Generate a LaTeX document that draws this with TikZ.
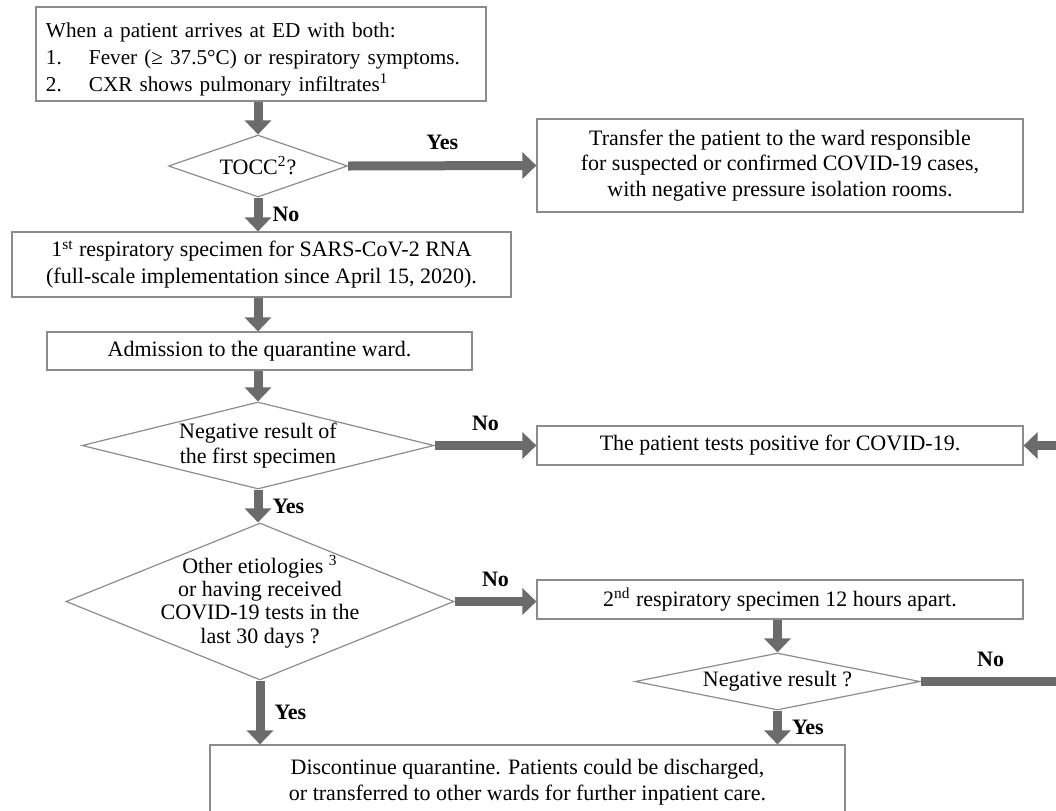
\documentclass[tikz,border=0pt]{standalone}
\usepackage{fontspec}
\setmainfont{Liberation Serif}
\usepackage{tikz}
\usetikzlibrary{arrows.meta}
\usetikzlibrary{shapes}
\definecolor{boxgray}{HTML}{8C8C8C}
\definecolor{arrowgray}{HTML}{6B6B6B}
\begin{document}
\begin{tikzpicture}
      [x=0.5pt,y=-0.5pt,
       font=\fontsize{11}{12.75}\selectfont,
       box/.style={rectangle,draw=boxgray,line width=0.6pt,inner sep=0pt,align=center},
       decision/.style={diamond,draw=boxgray,line width=0.6pt,inner sep=0pt},
       flow/.style={draw=arrowgray,line width=4.5pt,-{Triangle[width=13pt,length=7pt]}},
       answer/.style={font=\fontsize{11}{12}\selectfont\bfseries,inner sep=2pt}]
      \useasboundingbox (0,0) rectangle (1056,810);
      % place nodes
      \node[box,minimum width=225pt,text width=215pt,text height=15pt,text depth=32pt,align=left,
            font=\fontsize{10.6}{13.5}\selectfont] (arrive) at (261,54)
           {\mbox{When a patient arrives at ED with both:}\\
            \mbox{\makebox[21.5pt][l]{1.}Fever (≥ 37.5°C) or respiratory symptoms.}\\
            \mbox{\makebox[21.5pt][l]{2.}CXR shows pulmonary infiltrates\textsuperscript{1}}};
      \node[decision,minimum width=89.5pt,minimum height=31pt,
            label={center:TOCC\textsuperscript{2}?}] (tocc) at (258,166) {};
      \node[box,minimum width=243pt,minimum height=46.5pt] (transfer) at (780,165.5)
           {Transfer the patient to the ward responsible\\for suspected or confirmed COVID-19 cases,\\with negative pressure isolation rooms.};
      \node[box,minimum width=249.5pt,minimum height=32.5pt,font=\fontsize{11}{13.5}\selectfont] (spec1) at (261.5,264.5)
           {1\textsuperscript{st} respiratory specimen for SARS-CoV-2 RNA\\(full-scale implementation since April 15, 2020).};
      \node[box,minimum width=212.5pt,minimum height=19pt] (admit) at (259.5,351)
           {Admission to the quarantine ward.};
      \node[decision,minimum width=176pt,minimum height=43.5pt,
            label={[align=center]center:Negative result of\\the first specimen}] (neg1) at (258,445.5) {};
      \node[box,minimum width=243pt,minimum height=19.5pt] (positive) at (780,445.5)
           {The patient tests positive for COVID-19.};
      \node[decision,minimum width=194pt,minimum height=78.5pt,
            label={[align=center,font=\fontsize{11}{11.7}\selectfont]center:Other etiologies \textsuperscript{3}\\or having received\\COVID-19 tests in the\\last 30 days ?}] (other) at (260,601.5) {};
      \node[box,minimum width=243pt,minimum height=19.5pt] (spec2) at (780,599.5)
           {2\textsuperscript{nd} respiratory specimen 12 hours apart.};
      \node[decision,minimum width=142.5pt,minimum height=28.5pt,
            label={center:Negative result ?}] (neg2) at (777.5,681.5) {};
      \node[box,minimum width=317.5pt,minimum height=37pt] (discharge) at (527.5,782)
           {Discontinue quarantine. Patients could be discharged,\\or transferred to other wards for further inpatient care.};
      % add edges
      \draw[flow] (tocc.north |- arrive.south) -- (tocc.north);
      \draw[flow] (tocc.east) -- node[answer,above=4pt]{Yes} (transfer.west);
      \draw[flow] (tocc.south) -- node[answer,right=3pt]{No} (tocc.south |- spec1.north);
      \draw[flow] (spec1.south -| tocc.south) -- (admit.north -| tocc.south);
      \draw[flow] (admit.south -| neg1.north) -- (neg1.north);
      \draw[flow] (neg1.east) -- node[answer,above=3pt]{No} (positive.west);
      \draw[flow] (neg1.south) -- node[answer,right=3pt]{Yes} (neg1.south |- other.north);
      \draw[flow] (other.east) -- node[answer,above=3pt]{No} (other.east -| spec2.west);
      \draw[flow] (spec2.south -| neg2.north) -- (neg2.north);
      \draw[flow] (neg2.east) -- node[answer,above=3pt]{No} ++(140,0) |- (positive.east);
      \draw[flow] (other.south) -- node[answer,right=3pt]{Yes} (other.south |- discharge.north);
      \draw[flow] (neg2.south) -- node[answer,right=3pt]{Yes} (neg2.south |- discharge.north);
    \end{tikzpicture}
\end{document}
